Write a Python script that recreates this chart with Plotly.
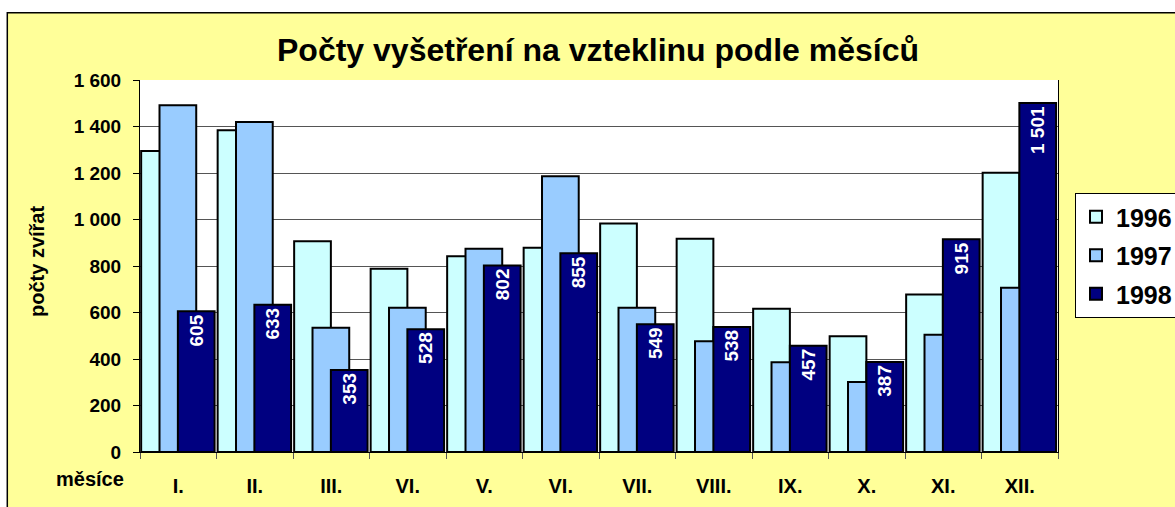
import plotly.graph_objects as go

# Monthly counts of rabies examinations
months = ["I.", "II.", "III.", "VI.", "V.", "VI.", "VII.", "VIII.", "IX.", "X.", "XI.", "XII."]
years = ["1996", "1997", "1998"]
v1996 = [1295, 1384, 906, 788, 842, 878, 983, 917, 616, 498, 677, 1201]
v1997 = [1491, 1419, 534, 620, 874, 1186, 620, 476, 386, 301, 504, 706]
v1998 = [605, 633, 353, 528, 802, 855, 549, 538, 457, 387, 915, 1501]
y_ticks = [0, 200, 400, 600, 800, 1000, 1200, 1400, 1600]

W, H = 1175, 507
ML, MR, MT, MB = 140, 117, 80, 55
PW, PH = W - ML - MR, H - MT - MB

def px_x(px):
    return (px - ML) / PW

def px_y(py):
    return (H - MB - py) / PH

colors = ["#CCFFFF", "#99CCFF", "#000080"]
offsets = [-0.485, -0.245, -0.005]
bar_w = 0.48
x = list(range(len(months)))
FONT = "Liberation Sans, Arial, sans-serif"

fig = go.Figure()
for i, (name, vals) in enumerate(zip(years, [v1996, v1997, v1998])):
    kw = {}
    if name == "1998":
        kw = dict(
            texttemplate="%{y:,d}",
            textposition="inside",
            insidetextanchor="end",
            textangle=-90,
            textfont=dict(color="white", size=19, family=FONT, weight="bold"),
        )
    fig.add_trace(go.Bar(
        x=x, y=vals, name=name,
        width=bar_w, offset=offsets[i],
        marker=dict(color=colors[i], line=dict(color="black", width=2)),
        legendgroup=name,
        hoverinfo="skip",
        **kw,
    ))

fig.update_layout(
    width=W, height=H,
    margin=dict(l=ML, r=MR, t=MT, b=MB, pad=0, autoexpand=False),
    barmode="overlay",
    separators=", ",
    paper_bgcolor="#FFFF99",
    plot_bgcolor="white",
    font=dict(family=FONT, color="black"),
    title=dict(
        text="Počty vyšetření na vzteklinu podle měsíců",
        font=dict(size=32, family=FONT, weight="bold", color="black"),
        x=598 / W, xref="container", xanchor="center",
        y=1 - 50 / H, yref="container", yanchor="middle",
    ),
    showlegend=True,
    legend=dict(
        x=px_x(1075), y=px_y(193), xanchor="left", yanchor="top",
        bgcolor="white", bordercolor="black", borderwidth=1,
        font=dict(size=25, family=FONT, weight="bold"),
        traceorder="grouped", tracegroupgap=3,
    ),
    xaxis=dict(
        range=[-0.5, len(months) - 0.5],
        tickmode="array", tickvals=x, ticktext=months,
        ticks="", showgrid=False, zeroline=False,
        showline=True, linecolor="black", linewidth=1,
        tickfont=dict(size=20, family=FONT, weight="bold"),
        ticklabelstandoff=16,
        minor=dict(tick0=-0.5, dtick=1, ticks="outside", ticklen=6,
                   tickcolor="#555", showgrid=False),
    ),
    yaxis=dict(
        range=[0, 1600], tickmode="array", tickvals=y_ticks,
        tickformat=",d",
        ticks="outside", ticklen=6, tickcolor="black",
        showgrid=True, gridcolor="#555", gridwidth=1,
        zeroline=False,
        showline=True, linecolor="black", linewidth=1, mirror=True,
        tickfont=dict(size=19, family=FONT, weight="bold"),
        ticklabelstandoff=8,
    ),
    shapes=[
        # white margin around the chart frame
        dict(type="rect", xref="paper", yref="paper",
             x0=px_x(-10), x1=px_x(W + 10), y0=px_y(12.7), y1=px_y(-10),
             fillcolor="white", line=dict(width=0), layer="below"),
        dict(type="rect", xref="paper", yref="paper",
             x0=px_x(-10), x1=px_x(7.3), y0=px_y(H + 10), y1=px_y(-10),
             fillcolor="white", line=dict(width=0), layer="below"),
        # chart frame
        dict(type="rect", xref="paper", yref="paper",
             x0=px_x(7.3), x1=px_x(W + 10), y0=px_y(H + 10), y1=px_y(12.7),
             fillcolor="rgba(0,0,0,0)", line=dict(color="black", width=1.5),
             layer="below"),
    ],
    annotations=[
        dict(text="počty zvířat", xref="paper", yref="paper",
             x=px_x(37), y=px_y(262), textangle=-90, showarrow=False,
             xanchor="center", yanchor="middle",
             font=dict(size=20, family=FONT, weight="bold")),
        dict(text="měsíce", xref="paper", yref="paper",
             x=px_x(90), y=px_y(479), showarrow=False,
             xanchor="center", yanchor="middle",
             font=dict(size=20, family=FONT, weight="bold")),
    ],
)

fig.write_html("out.html")
